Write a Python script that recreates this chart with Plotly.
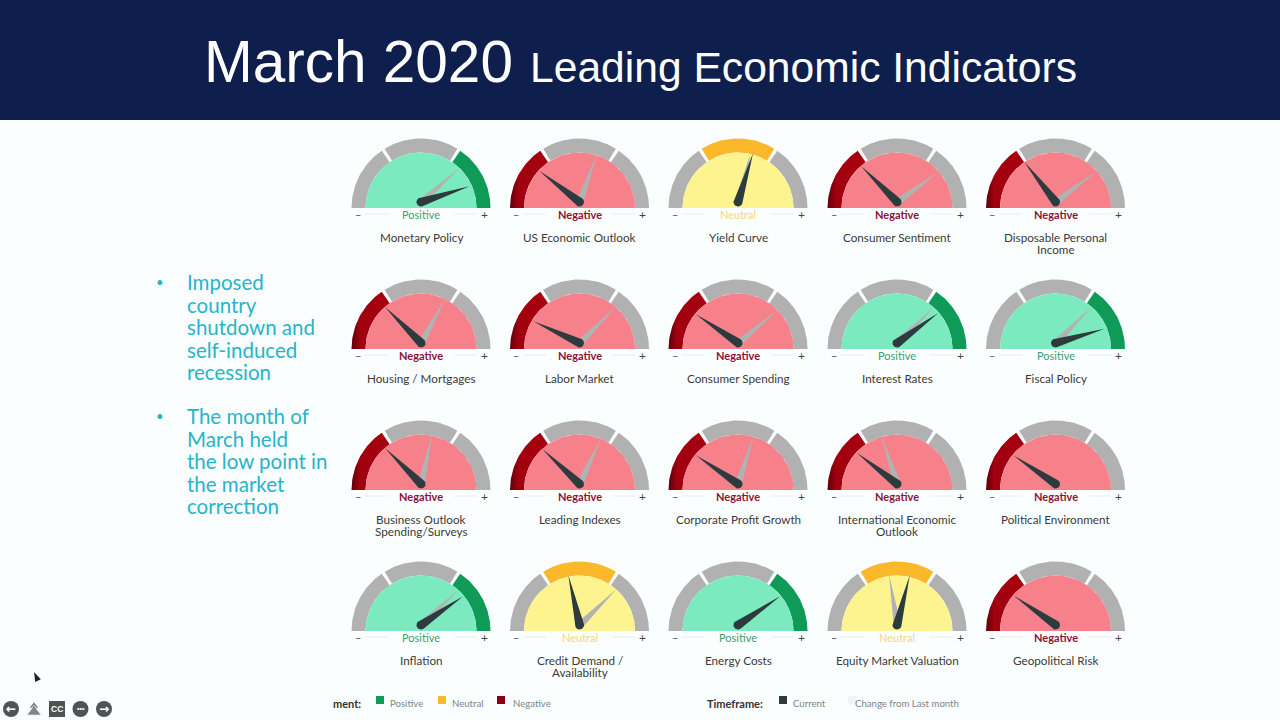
import math
import plotly.graph_objects as go

# ---------- data ----------
indicators = [
    "Monetary Policy", "US Economic Outlook", "Yield Curve", "Consumer Sentiment", "Disposable Personal<br>Income",
    "Housing / Mortgages", "Labor Market", "Consumer Spending", "Interest Rates", "Fiscal Policy",
    "Business Outlook<br>Spending/Surveys", "Leading Indexes", "Corporate Profit Growth", "International Economic<br>Outlook", "Political Environment",
    "Inflation", "Credit Demand /<br>Availability", "Energy Costs", "Equity Market Valuation", "Geopolitical Risk",
]
sentiment = [
    "Positive", "Negative", "Neutral", "Negative", "Negative",
    "Negative", "Negative", "Negative", "Positive", "Positive",
    "Negative", "Negative", "Negative", "Negative", "Negative",
    "Positive", "Neutral", "Positive", "Neutral", "Negative",
]
current_score = [
    90, 21, 59.5, 25, 29,
    25, 14, 19, 80, 91,
    25, 24, 19, 21, 19,
    81, 43, 81, 58, 19.5,
]
last_month_score = [
    77, 61, 58, 80, 79.5,
    66, 75, 78, 75.5, 75,
    57, 64, 60, 40, None,
    76, 75.5, None, 45, None,
]
title_main = "March 2020"
title_sub = "Leading Economic Indicators"
bullets = [
    ["Imposed", "country", "shutdown and", "self-induced", "recession"],
    ["The month of", "March held", "the low point in", "the market", "correction"],
]

# ---------- styles and layout ----------
BAND = {"Negative": (0, 31.7), "Neutral": (31.7, 68.3), "Positive": (68.3, 100)}
ACTIVE = {"Negative": "#a4000f", "Neutral": "#fbb82a", "Positive": "#0f9a58"}
FACE = {"Negative": "#f6818b", "Neutral": "#fdf490", "Positive": "#7ceabf"}
LABEL = {"Negative": "#8c1238", "Neutral": "#f3d67c", "Positive": "#3f9d70"}
GREY = "#b0b1b0"
NEEDLE = "#2e3b3e"
PAGE = "#fbfefe"
BULLET = "#26b4ca"
COLS = [421, 579.5, 738, 897, 1055.5]
ROWS = [208, 349, 490, 631]
R_OUT, R_IN, R_TIP, PIVOT = 69.5, 55.5, 51, 6


def angle(score):
    return math.radians(180 - score * 1.8)


def ring(cx, cy, a, b):
    a += 0.8
    b -= 0.8
    if a < 1:
        a = 0
    if b > 99:
        b = 100
    scores = [a + (b - a) * i / 40 for i in range(41)]
    xs = [cx + R_OUT * math.cos(angle(s)) for s in scores]
    ys = [cy - R_OUT * math.sin(angle(s)) for s in scores]
    xs += [cx + R_IN * math.cos(angle(s)) for s in reversed(scores)]
    ys += [cy - R_IN * math.sin(angle(s)) for s in reversed(scores)]
    return xs, ys


def disc(cx, cy):
    scores = [i for i in range(0, 101, 2)]
    return ([cx + R_IN * math.cos(angle(s)) for s in scores],
            [cy - R_IN * math.sin(angle(s)) for s in scores])


def needle(cx, cy, score, half):
    t = angle(score)
    px, py = cx, cy - PIVOT
    xs, ys = [px + R_TIP * math.cos(t)], [py - R_TIP * math.sin(t)]
    for i in range(13):
        u = t + math.pi / 2 + math.pi * i / 12
        xs.append(px + half * math.cos(u))
        ys.append(py - half * math.sin(u))
    return xs, ys


def poly(fig, xs, ys, color, gradient=None):
    kw = dict(fillcolor=color)
    if gradient:
        kw = dict(fillgradient=dict(type="horizontal", colorscale=gradient))
    fig.add_trace(go.Scatter(x=xs + xs[:1], y=ys + ys[:1], mode="lines", fill="toself",
                             line=dict(width=0, color=color),
                             hoverinfo="skip", showlegend=False, **kw))


fig = go.Figure()
ann = []


def text(x, y, s, size, color, anchor="center", family="Lato"):
    ann.append(dict(x=x - 2 if anchor == "left" else x, y=y, text=s, showarrow=False,
                    xanchor=anchor, yanchor="middle",
                    font=dict(size=size, color=color, family=family)))


for i, name in enumerate(indicators):
    cx, cy = COLS[i % 5], ROWS[i // 5]
    state = sentiment[i]
    for key, (a, b) in BAND.items():
        xs, ys = ring(cx, cy, a, b)
        if key == state == "Negative":
            poly(fig, xs, ys, ACTIVE[state],
                 gradient=[[0, "#5e0008"], [0.22, "#a0000f"], [1, "#a8000f"]])
        else:
            poly(fig, xs, ys, ACTIVE[state] if key == state else GREY)
    xs, ys = disc(cx, cy)
    poly(fig, xs, ys, FACE[state])
    if last_month_score[i] is not None:
        xs, ys = needle(cx, cy, last_month_score[i], 4)
        poly(fig, xs, ys, "#b1b3b1")
    xs, ys = needle(cx, cy, current_score[i], 4.5)
    poly(fig, xs, ys, NEEDLE)
    # scale line and end labels
    for a, b in ((cx - 56, cx - 33), (cx + 33, cx + 56)):
        fig.add_trace(go.Scatter(x=[a, b], y=[cy + 6, cy + 6], mode="lines",
                                 line=dict(width=1, color="#e6edf0"),
                                 hoverinfo="skip", showlegend=False))
    text(cx - 63.5, cy + 6, "–", 11, "#555")
    text(cx + 63, cy + 6, "+", 12, "#444")
    text(cx, cy + 6, f"<b>{state}</b>" if state == "Negative" else state, 11, LABEL[state])
    parts = name.split("<br>")
    for k, part in enumerate(parts):
        text(cx, cy + 29 + 12 * k, part, 11.7, "#3a3a3a")

shapes = [dict(type="rect", x0=0, x1=1280, y0=0, y1=120, fillcolor="#0e1f4e", line_width=0, layer="below")]

# title
text(358.5, 61, title_main, 58.5, "#ffffff", family="Liberation Sans")
text(803, 67, title_sub, 42.6, "#ffffff", family="Liberation Sans")

# bullets
y = 282
for group in bullets:
    text(160, y, "•", 13, BULLET)
    for line in group:
        text(187, y, line, 20.5, BULLET, anchor="left")
        y += 22.5
    y += 21.5

# legend
for x, col in ((380, ACTIVE["Positive"]), (442, ACTIVE["Neutral"]), (501, "#8a0010"), (783, NEEDLE), (852, "#eef3f5")):
    fig.add_trace(go.Scatter(x=[x], y=[700], mode="markers",
                             marker=dict(symbol="square", size=8, color=col),
                             hoverinfo="skip", showlegend=False))
text(333, 703, "<b>ment:</b>", 11, "#333", anchor="left")
text(390, 703, "Positive", 9.6, "#7d8488", anchor="left")
text(452, 703, "Neutral", 9.6, "#7d8488", anchor="left")
text(513, 703, "Negative", 9.6, "#7d8488", anchor="left")
text(707, 703, "<b>Timeframe:</b>", 11, "#333", anchor="left")
text(793, 703, "Current", 9.6, "#7d8488", anchor="left")
text(855, 703, "Change from Last month", 9.6, "#7d8488", anchor="left")

# player controls
ICON = "#4e5356"
for x, sym in ((11, "circle"), (57, "square"), (80.5, "circle"), (104, "circle")):
    fig.add_trace(go.Scatter(x=[x], y=[709], mode="markers",
                             marker=dict(symbol=sym, size=16, color=ICON),
                             hoverinfo="skip", showlegend=False))
fig.add_trace(go.Scatter(x=[34, 34], y=[706, 712], mode="markers",
                         marker=dict(symbol="triangle-up", size=[9, 13], color=ICON),
                         hoverinfo="skip", showlegend=False))
text(11, 708.5, "<b>←</b>", 12, "#fff", family="DejaVu Sans")
text(104, 708.5, "<b>→</b>", 12, "#fff", family="DejaVu Sans")
text(57, 709, "<b>CC</b>", 8.5, "#fff", family="Liberation Sans")
text(80.5, 708, "<b>•••</b>", 7, "#fff", family="Liberation Sans")
fig.add_trace(go.Scatter(x=[34], y=[672], mode="markers",
                         marker=dict(symbol="arrow", size=10, color="#222", angle=-25),
                         hoverinfo="skip", showlegend=False))

fig.update_layout(
    width=1280, height=720, margin=dict(l=0, r=0, t=0, b=0),
    paper_bgcolor=PAGE, plot_bgcolor=PAGE, shapes=shapes, annotations=ann,
    xaxis=dict(range=[0, 1280], visible=False, fixedrange=True),
    yaxis=dict(range=[720, 0], visible=False, fixedrange=True),
)
fig.write_html("out.html", config={"displayModeBar": False},
               post_script="document.body.style.margin='0';document.body.style.overflow='hidden';")
